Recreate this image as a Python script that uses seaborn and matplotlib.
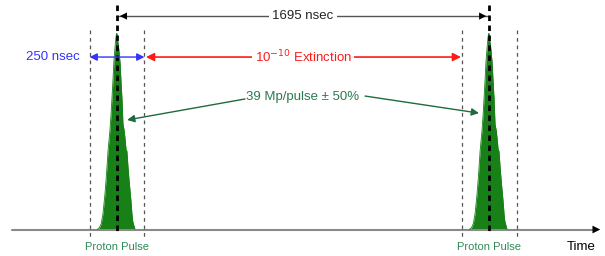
import numpy as np
import pandas as pd
import matplotlib
matplotlib.use("Agg")
import matplotlib.pyplot as plt
import seaborn as sns

# pulse timing (nsec)
PULSE_CENTERS = [0, 1695]
PULSE_SPACING = 1695
WINDOW = 250

# beam profile of one pulse: offset from centre (nsec) and relative intensity
PROFILE_T = [-90, -80, -72, -64, -55, -50, -45, -41, -36, -32, -27, -23, -18, -14, -9, -5,
             -2, 0, 2, 5, 9, 14, 18, 23, 27, 30, 32, 36, 41, 45, 50, 55, 60, 64, 68, 72, 77, 82]
PROFILE_A = [0.0, 0.01, 0.03, 0.08, 0.18, 0.25, 0.33, 0.40, 0.46, 0.51, 0.59, 0.67, 0.77, 0.86, 0.93, 0.98,
             1.0, 1.0, 0.97, 0.95, 0.91, 0.85, 0.76, 0.66, 0.54, 0.52, 0.51, 0.47, 0.41, 0.40, 0.32, 0.25,
             0.19, 0.14, 0.08, 0.04, 0.02, 0.0]

sns.set_theme(style="white")
plt.rcParams["font.family"] = ["Liberation Sans", "DejaVu Sans"]

rows = []
for i, c in enumerate(PULSE_CENTERS):
    for t, a in zip(PROFILE_T, PROFILE_A):
        rows.append({"pulse": i, "t": c + t, "a": a})
df = pd.DataFrame(rows)

fig = plt.figure(figsize=(6.05, 2.56), dpi=100)
ax = fig.add_axes([0, 0, 1, 1])

green = "#178017"
for i, d in df.groupby("pulse"):
    ax.fill_between(d["t"], 0, d["a"], color=green, lw=0)
    sns.lineplot(data=d, x="t", y="a", color=green, lw=0.6, ax=ax, legend=False)

ax.set_xlim(-533, 2223)
ax.set_ylim(-0.135, 1.171)
ax.axis("off")

# time axis
ax.plot([-478, 2170], [0, 0], color="#8a8a8a", lw=1.5, zorder=1)
ax.annotate("", xy=(2214, 0), xytext=(2150, 0),
            arrowprops=dict(arrowstyle="-|>", color="black", lw=0, mutation_scale=14))
ax.text(2114, -0.089, "Time", ha="center", va="center", fontsize=9.5, color="black")

for c in PULSE_CENTERS:
    # window edges
    for e in (c - WINDOW / 2, c + WINDOW / 2):
        ax.plot([e, e], [1.018, -0.043], color="#555555", lw=0.9, ls=(0, (3, 3)), zorder=3)
    # pulse centre
    ax.plot([c, c], [1.145, -0.023], color="black", lw=2, ls=(0, (2, 1.6)), zorder=4)
    ax.text(c, -0.089, "Proton Pulse", ha="center", va="center", fontsize=8, color="#2e8b57")

# 1695 nsec spacing
y_top = 1.089
ax.plot([0, PULSE_SPACING], [y_top, y_top], color="#555555", lw=1, zorder=2)
ax.annotate("", xy=(0, y_top), xytext=(60, y_top),
            arrowprops=dict(arrowstyle="-|>", color="black", lw=0, mutation_scale=13))
ax.annotate("", xy=(PULSE_SPACING, y_top), xytext=(PULSE_SPACING - 60, y_top),
            arrowprops=dict(arrowstyle="-|>", color="black", lw=0, mutation_scale=13))
ax.text(PULSE_SPACING / 2, y_top, f"{PULSE_SPACING} nsec", ha="center", va="center", fontsize=9.5,
        color="#222222", bbox=dict(facecolor="white", edgecolor="none", pad=2.5), zorder=5)

# 250 nsec window
y_mid = 0.88
blue = "#3333ff"
ax.annotate("", xy=(-WINDOW / 2, y_mid), xytext=(WINDOW / 2, y_mid),
            arrowprops=dict(arrowstyle="<|-|>", color=blue, lw=1, mutation_scale=11,
                            shrinkA=0, shrinkB=0), zorder=5)
ax.text(-169, y_mid, f"{WINDOW} nsec", ha="right", va="center", fontsize=9.5, color=blue)

# extinction
red = "#ff1a1a"
ax.annotate("", xy=(132, y_mid), xytext=(PULSE_SPACING - 128, y_mid),
            arrowprops=dict(arrowstyle="<|-|>", color=red, lw=1.2, mutation_scale=12,
                            shrinkA=0, shrinkB=0))
ax.text(PULSE_SPACING / 2, y_mid, r"10$^{-10}$ Extinction", ha="center", va="center", fontsize=9.5,
        color=red, bbox=dict(facecolor="white", edgecolor="none", pad=1.5), zorder=5)

# intensity
tgreen = "#2a7a4f"
ax.text(PULSE_SPACING / 2, 0.676, "39 Mp/pulse ± 50%", ha="center", va="center", fontsize=9.5,
        color=tgreen)
ax.annotate("", xy=(46, 0.559), xytext=(583, 0.666),
            arrowprops=dict(arrowstyle="-|>", color="#1f6b3f", lw=1, mutation_scale=11,
                            shrinkA=0, shrinkB=0), zorder=5)
ax.annotate("", xy=(1649, 0.594), xytext=(1130, 0.681),
            arrowprops=dict(arrowstyle="-|>", color="#1f6b3f", lw=1, mutation_scale=11,
                            shrinkA=0, shrinkB=0), zorder=5)

fig.savefig("out.png", dpi=100, facecolor="white")
